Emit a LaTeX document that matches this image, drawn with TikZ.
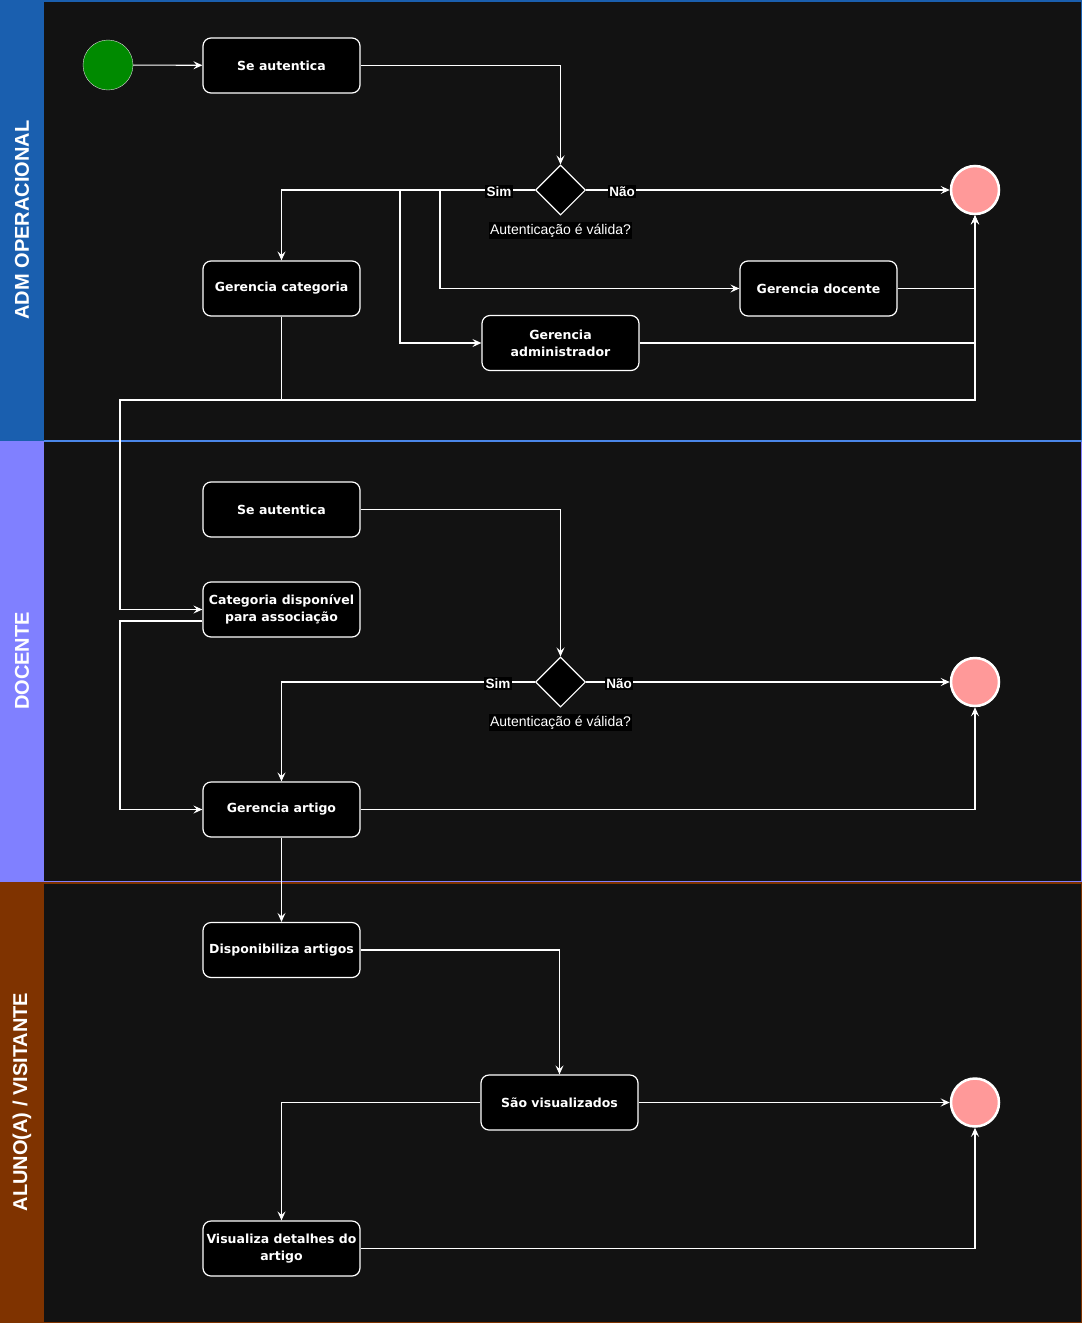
\documentclass[tikz,border=0pt]{standalone}
\usepackage{fontspec}
\setmainfont{Liberation Sans}
\newfontfamily\boxfont{DejaVu Sans}
\usetikzlibrary{arrows.meta,shapes.geometric}

\definecolor{canvas}{HTML}{121212}
\definecolor{admhead}{HTML}{1A5FAF}
\definecolor{admline}{HTML}{4A86E8}
\definecolor{dochead}{HTML}{8080FF}
\definecolor{aluhead}{HTML}{7F3300}
\definecolor{startgreen}{HTML}{008A00}
\definecolor{endpink}{HTML}{FF9999}

\begin{document}
\begin{tikzpicture}[x=1pt,y=-1pt,
  act/.style={draw=white, line width=1.2pt, fill=black, rounded corners=8pt,
    minimum width=157pt, minimum height=55pt, inner sep=1pt,
    align=center, text=white,
    font=\boxfont\bfseries\fontsize{12.5}{17}\selectfont},
  choice/.style={diamond, draw=white, line width=1.1pt, fill=black, minimum width=50pt,
    minimum height=50pt, inner sep=0pt},
  initial/.style={circle, draw=black!15, fill=startgreen, minimum size=50pt, inner sep=0pt},
  final/.style={circle, draw=white, line width=2.5pt, fill=endpink, minimum size=48pt, inner sep=0pt},
  branchlbl/.style={fill=black, text=white, inner sep=1.2pt,
    font=\bfseries\fontsize{13.5}{13.5}\selectfont},
  question/.style={fill=black, text=white, inner sep=1.5pt,
    font=\fontsize{14}{14}\selectfont},
  lanetitle/.style={rotate=90, text=white, font=\bfseries\fontsize{20}{20}\selectfont},
  flow/.style={draw=white, line width=1.1pt, -{Stealth[length=9pt,width=8pt,inset=3.5pt]}},
  wire/.style={draw=white, line width=1.1pt}
]
\useasboundingbox (0,0) rectangle (1082,1323);

% lanes
\fill[canvas] (0,0) rectangle (1082,1323);
\fill[admhead] (0,0) rectangle (44,441);
\fill[dochead] (0,441) rectangle (44,882);
\fill[aluhead] (0,882) rectangle (44,1323);
\draw[admhead, line width=1.5pt] (0,0.75) -- (1081.25,0.75) -- (1081.25,441);
\draw[dochead, line width=1.5pt] (1081.25,441) -- (1081.25,881.5) -- (44,881.5);
\draw[aluhead, line width=1.5pt] (44,883) -- (1081.25,883) -- (1081.25,1322.25) -- (0,1322.25);
\draw[admline, line width=1.5pt] (44,441) -- (1082,441);
\node[lanetitle] (laneadm) at (22,220) {ADM OPERACIONAL};
\node[lanetitle] (lanedoc) at (22,661) {DOCENTE};
\node[lanetitle] (lanealu) at (22,1102) {ALUNO(A) / VISITANTE};

% ADM operacional
\node[initial] (start) at (108,65) {};
\node[act] (auth1) at (281.5,65.5) {Se autentica};
\node[choice] (dec1) at (560.5,190) {};
\node[final] (end1) at (975,190) {};
\node[act] (gcat) at (281.5,288.5) {Gerencia categoria};
\node[act] (gdoc) at (818.5,288.5) {Gerencia docente};
\node[act] (gadm) at (560.5,343) {Gerencia\\administrador};

% Docente
\node[act] (auth2) at (281.5,509.5) {Se autentica};
\node[act] (catd) at (281.5,609.5) {Categoria disponível\\para associação};
\node[choice] (dec2) at (560.5,682) {};
\node[final] (end2) at (975,682) {};
\node[act] (gart) at (281.5,809.5) {Gerencia artigo};

% Aluno / visitante
\node[act] (disp) at (281.5,950) {Disponibiliza artigos};
\node[act] (vis) at (559.5,1102.5) {São visualizados};
\node[final] (end3) at (975,1102.5) {};
\node[act] (det) at (281.5,1248.5) {Visualiza detalhes do\\artigo};

% junctions
\coordinate (j1) at (440,190);
\coordinate (j2) at (400,190);
\coordinate (j3) at (281.5,400);
\coordinate (k1) at (120,400);
\coordinate (k2) at (120,621);

% connectors
\draw[flow] (start) -- (auth1);
\draw[flow] (auth1.east) -| (dec1.north);
\draw[flow] (dec1.west) -| (gcat.north);
\draw[flow] (j1) |- (gdoc.west);
\draw[flow] (j2) |- (gadm.west);
\draw[flow] (dec1.east) -- (end1.west);
\draw[flow] (gdoc.east) -| (end1.south);
\draw[flow] (gadm.east) -| (end1.south);
\draw[flow] (gcat.south) -- (j3) -| (end1.south);
\draw[flow] (j3) -- (k1) |- (catd.west);
\draw[flow] ([yshift=-11.5pt]catd.west) -- (k2) |- (gart.west);

\draw[flow] (auth2.east) -| (dec2.north);
\draw[flow] (dec2.west) -| (gart.north);
\draw[flow] (dec2.east) -- (end2.west);
\draw[flow] (gart.east) -| (end2.south);
\draw[flow] (gart.south) -- (disp.north);

\draw[flow] (disp.east) -| (vis.north);
\draw[flow] (vis.west) -| (det.north);
\draw[flow] (vis.east) -- (end3.west);
\draw[flow] (det.east) -| (end3.south);

% branch labels
\node[branchlbl] (sim1) at (499,191.5) {Sim};
\node[branchlbl] (nao1) at (622,191.5) {Não};
\node[question] (q1) at (560.5,230.5) {Autenticação é válida?};
\node[branchlbl] (sim2) at (498,683.5) {Sim};
\node[branchlbl] (nao2) at (619,683.5) {Não};
\node[question] (q2) at (560.5,722.5) {Autenticação é válida?};
\end{tikzpicture}
\end{document}
